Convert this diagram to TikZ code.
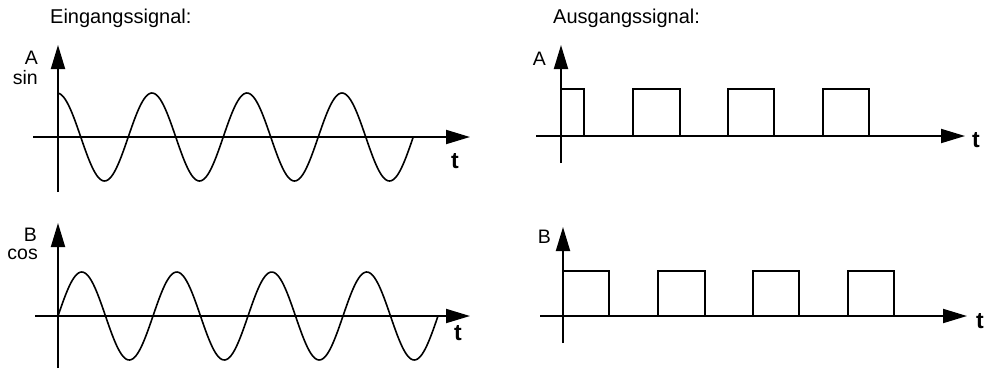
\documentclass[tikz,border=0pt]{standalone}
\usepackage{fontspec}
\setmainfont{Liberation Sans}
\usetikzlibrary{arrows.meta}

\begin{document}
\begin{tikzpicture}[
  x=1pt, y=-1pt,
  axis/.style={line width=1.9pt, -{Triangle[length=24pt,width=14pt]}},
  curve/.style={line width=1.6pt, line join=miter},
  lbl/.style={inner sep=0pt, font=\fontsize{19.5}{19.5}\selectfont},
  title/.style={lbl, anchor=base west, font=\fontsize{20}{20}\selectfont},
  tlbl/.style={lbl, anchor=base west, font=\fontsize{23}{23}\selectfont\bfseries}
]
\useasboundingbox (0,0) rectangle (986,368);

% titles
\node[title] (inTitle) at (50,23) {Eingangssignal:};
\node[title] (outTitle) at (553,23) {Ausgangssignal:};

% input A (sin)
\coordinate (inAy0) at (58,192);
\coordinate (inAy1) at (58,45);
\coordinate (inAx0) at (33,137);
\coordinate (inAx1) at (470,137);
\draw[axis] (inAy0) -- (inAy1);
\draw[axis] (inAx0) -- (inAx1);
\node[lbl, anchor=base east] (inA) at (38,64) {A};
\node[lbl, anchor=base east] (inAsin) at (38,84) {sin};
\node[tlbl] (inAt) at (451,168) {t};
\draw[curve] plot[domain=58:413.25, samples=240] (\x,{137-44*cos(3.7895*(\x-57))});

% input B (cos)
\coordinate (inBy0) at (58,368);
\coordinate (inBy1) at (58,223);
\coordinate (inBx0) at (35,316);
\coordinate (inBx1) at (470,316);
\draw[axis] (inBy0) -- (inBy1);
\draw[axis] (inBx0) -- (inBx1);
\node[lbl, anchor=base east] (inB) at (37,241) {B};
\node[lbl, anchor=base east] (inBcos) at (38,259) {cos};
\node[tlbl] (inBt) at (454,340) {t};
\draw[curve] plot[domain=58:438, samples=240] (\x,{316-44*sin(3.7895*(\x-58))});

% output A
\coordinate (outAy0) at (561,163);
\coordinate (outAy1) at (561,45);
\coordinate (outAx0) at (536,136);
\coordinate (outAx1) at (965,136);
\draw[axis] (outAy0) -- (outAy1);
\draw[axis] (outAx0) -- (outAx1);
\node[lbl, anchor=base east] (outA) at (546,65) {A};
\node[tlbl] (outAt) at (972,147) {t};
\draw[curve] (561,89) -- (584,89) -- (584,136);
\foreach \a/\b in {633/680, 728/774, 823/869}
  \draw[curve] (\a,136) -- (\a,89) -- (\b,89) -- (\b,136);

% output B
\coordinate (outBy0) at (563,343);
\coordinate (outBy1) at (563,227);
\coordinate (outBx0) at (540,316);
\coordinate (outBx1) at (967,316);
\draw[axis] (outBy0) -- (outBy1);
\draw[axis] (outBx0) -- (outBx1);
\node[lbl, anchor=base east] (outB) at (551,243) {B};
\node[tlbl] (outBt) at (976,328) {t};
\draw[curve] (563,271) -- (609,271) -- (609,316);
\foreach \a/\b in {658/705, 753/799, 848/894}
  \draw[curve] (\a,316) -- (\a,271) -- (\b,271) -- (\b,316);
\end{tikzpicture}
\end{document}
